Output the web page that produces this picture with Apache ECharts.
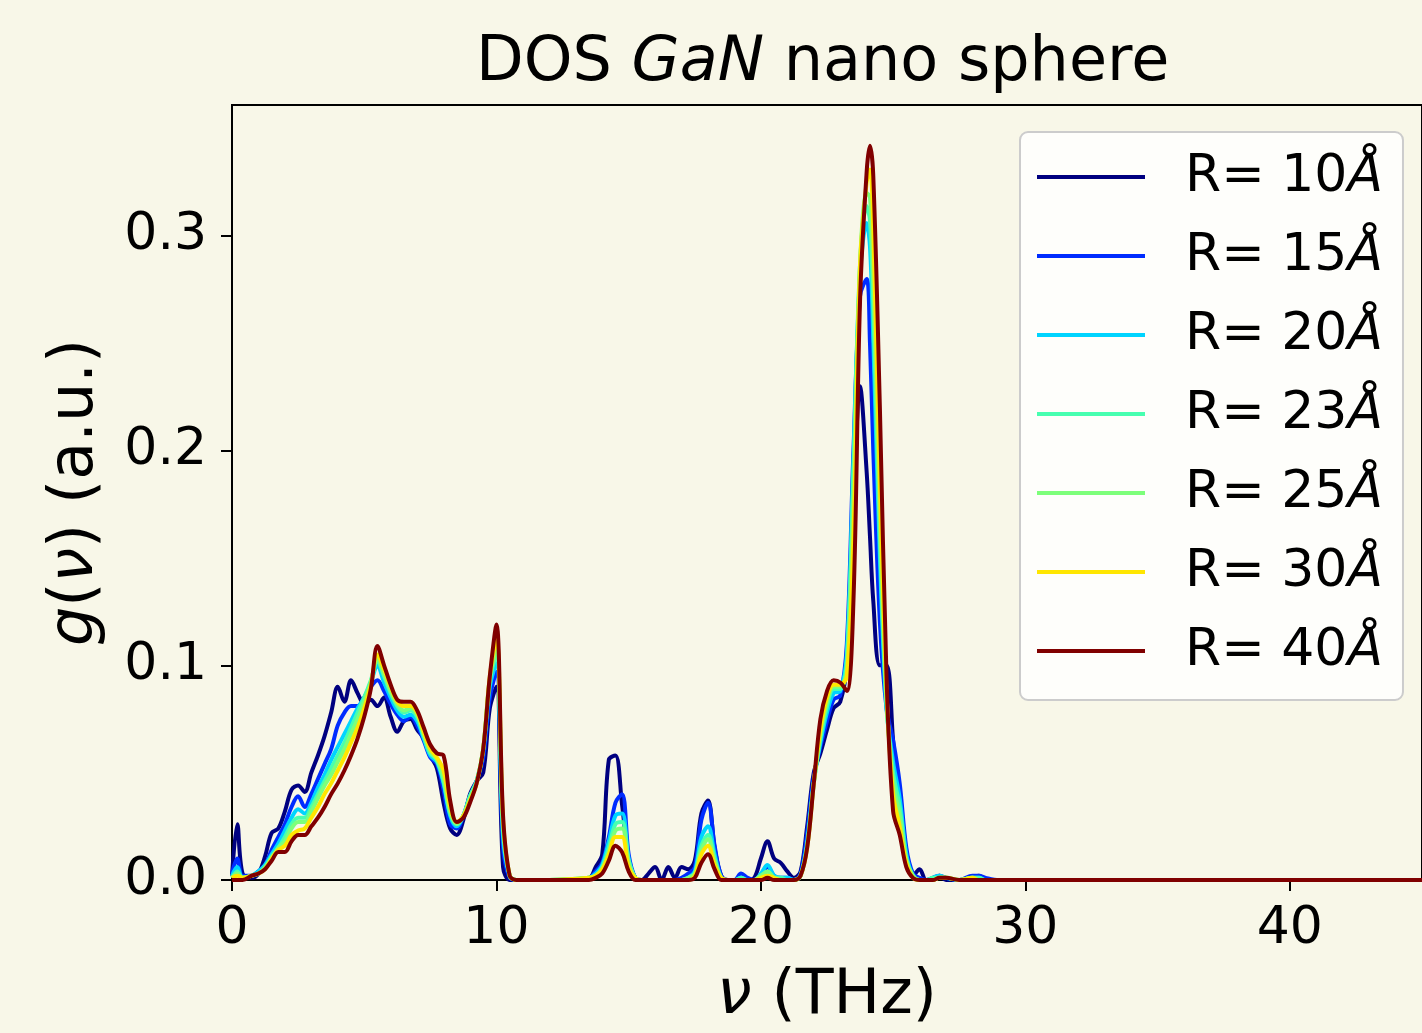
<!DOCTYPE html>
<html>
<head>
<meta charset="utf-8">
<title>DOS GaN nano sphere</title>
<script src="https://cdn.jsdelivr.net/npm/echarts@6/dist/echarts.min.js"></script>
<style>
  html, body { margin: 0; padding: 0; background: #f8f7e8; }
  #chart { width: 1422px; height: 1033px; }
</style>
</head>
<body>
<div id="chart"></div>
<script>
// frequency grid (THz), shared by all curves
const nu = [
  0, 0.2, 0.4, 0.75, 1.0, 1.25, 1.5, 1.75, 2.0, 2.25,
  2.5, 2.75, 3.0, 3.25, 3.5, 3.75, 4.0, 4.25, 4.5, 4.75,
  5.0, 5.25, 5.5, 5.75, 6.0, 6.25, 6.5, 6.75, 7.0, 7.25,
  7.5, 7.75, 8.0, 8.25, 8.5, 8.75, 9.0, 9.25, 9.5, 9.75,
  10.0, 10.25, 10.5, 10.75, 12.0, 13.5, 13.75, 14.0, 14.25, 14.5,
  14.75, 15.0, 15.25, 15.5, 15.75, 16.0, 16.25, 16.5, 16.75, 17.0,
  17.25, 17.5, 17.75, 18.0, 18.25, 18.5, 18.75, 19.0, 19.25, 19.5,
  19.75, 20.0, 20.25, 20.5, 20.75, 21.0, 21.25, 21.5, 21.75, 22.0,
  22.25, 22.5, 22.75, 23.0, 23.25, 23.5, 23.75, 24.0, 24.125, 24.25, 24.5,
  24.75, 25.0, 25.25, 25.5, 25.75, 26.0, 26.25, 26.5, 26.75, 27.0,
  27.5, 28.0, 28.25, 28.5, 29.0, 30.0, 45.0,
];

const g10 = [
  0.002, 0.026, 0.003, 0.001, 0.003, 0.011, 0.022, 0.024, 0.032, 0.042,
  0.044, 0.041, 0.050, 0.058, 0.067, 0.078, 0.090, 0.083, 0.093, 0.087,
  0.082, 0.084, 0.081, 0.085, 0.076, 0.069, 0.074, 0.075, 0.070, 0.066,
  0.058, 0.052, 0.036, 0.024, 0.021, 0.028, 0.040, 0.046, 0.050, 0.080,
  0.090, 0.006, 0.000, 0.000, 0.000, 0.001, 0.006, 0.012, 0.056, 0.058,
  0.035, 0.010, 0.001, 0.000, 0.003, 0.006, 0.000, 0.006, 0.001, 0.006,
  0.005, 0.009, 0.031, 0.037, 0.015, 0.002, 0.000, 0.000, 0.001, 0.000,
  0.001, 0.010, 0.018, 0.010, 0.008, 0.004, 0.001, 0.004, 0.025, 0.050,
  0.059, 0.070, 0.080, 0.083, 0.100, 0.170, 0.230, 0.190, 0.160, 0.130, 0.100,
  0.100, 0.065, 0.030, 0.010, 0.002, 0.005, 0.000, 0.000, 0.002, 0.000,
  0.000, 0.001, 0.002, 0.000, 0.000, 0.000, 0.000,
];

const g15 = [
  0.003, 0.010, 0.002, 0.002, 0.004, 0.007, 0.014, 0.020, 0.026, 0.034,
  0.039, 0.034, 0.040, 0.047, 0.054, 0.061, 0.072, 0.078, 0.081, 0.081,
  0.085, 0.090, 0.093, 0.088, 0.082, 0.077, 0.074, 0.076, 0.072, 0.065,
  0.057, 0.054, 0.042, 0.026, 0.024, 0.030, 0.039, 0.046, 0.057, 0.085,
  0.097, 0.015, 0.001, 0.000, 0.000, 0.001, 0.004, 0.008, 0.020, 0.036,
  0.040, 0.012, 0.001, 0.000, 0.000, 0.000, 0.000, 0.000, 0.000, 0.001,
  0.003, 0.006, 0.028, 0.036, 0.016, 0.002, 0.000, 0.000, 0.003, 0.001,
  0.000, 0.002, 0.006, 0.002, 0.001, 0.001, 0.000, 0.003, 0.022, 0.048,
  0.062, 0.074, 0.084, 0.086, 0.110, 0.200, 0.272, 0.280, 0.250, 0.200, 0.120,
  0.080, 0.065, 0.045, 0.015, 0.003, 0.001, 0.000, 0.001, 0.002, 0.001,
  0.000, 0.002, 0.002, 0.001, 0.000, 0.000, 0.000,
];

const g20 = [
  0.002, 0.006, 0.001, 0.002, 0.004, 0.007, 0.012, 0.017, 0.023, 0.029,
  0.033, 0.031, 0.036, 0.043, 0.049, 0.056, 0.062, 0.068, 0.074, 0.080,
  0.085, 0.092, 0.100, 0.092, 0.085, 0.079, 0.076, 0.077, 0.074, 0.066,
  0.058, 0.055, 0.045, 0.030, 0.025, 0.030, 0.039, 0.046, 0.060, 0.090,
  0.101, 0.020, 0.002, 0.000, 0.000, 0.001, 0.003, 0.007, 0.018, 0.030,
  0.031, 0.010, 0.001, 0.000, 0.000, 0.000, 0.000, 0.000, 0.000, 0.000,
  0.001, 0.004, 0.020, 0.025, 0.012, 0.001, 0.000, 0.000, 0.001, 0.000,
  0.000, 0.003, 0.007, 0.002, 0.001, 0.001, 0.000, 0.002, 0.018, 0.046,
  0.064, 0.078, 0.087, 0.088, 0.105, 0.195, 0.282, 0.306, 0.295, 0.252, 0.150,
  0.080, 0.055, 0.038, 0.012, 0.002, 0.000, 0.000, 0.001, 0.002, 0.001,
  0.000, 0.001, 0.001, 0.000, 0.000, 0.000, 0.000,
];

const g23 = [
  0.001, 0.004, 0.001, 0.002, 0.003, 0.006, 0.011, 0.015, 0.020, 0.026,
  0.029, 0.029, 0.034, 0.040, 0.046, 0.052, 0.058, 0.064, 0.071, 0.078,
  0.085, 0.093, 0.102, 0.095, 0.087, 0.081, 0.078, 0.079, 0.076, 0.067,
  0.059, 0.056, 0.046, 0.031, 0.026, 0.030, 0.039, 0.046, 0.061, 0.093,
  0.105, 0.024, 0.002, 0.000, 0.000, 0.001, 0.002, 0.006, 0.015, 0.026,
  0.027, 0.009, 0.001, 0.000, 0.000, 0.000, 0.000, 0.000, 0.000, 0.000,
  0.001, 0.003, 0.016, 0.021, 0.010, 0.001, 0.000, 0.000, 0.001, 0.000,
  0.000, 0.002, 0.004, 0.001, 0.001, 0.000, 0.000, 0.002, 0.016, 0.045,
  0.066, 0.081, 0.089, 0.089, 0.102, 0.190, 0.287, 0.314, 0.307, 0.268, 0.160,
  0.082, 0.050, 0.034, 0.010, 0.002, 0.000, 0.000, 0.001, 0.001, 0.001,
  0.000, 0.001, 0.001, 0.000, 0.000, 0.000, 0.000,
];

const g25 = [
  0.001, 0.003, 0.001, 0.002, 0.003, 0.006, 0.010, 0.015, 0.018, 0.024,
  0.027, 0.027, 0.032, 0.038, 0.044, 0.049, 0.055, 0.061, 0.068, 0.075,
  0.083, 0.092, 0.103, 0.096, 0.088, 0.082, 0.079, 0.080, 0.077, 0.068,
  0.060, 0.056, 0.048, 0.032, 0.026, 0.030, 0.038, 0.045, 0.061, 0.094,
  0.108, 0.026, 0.002, 0.000, 0.000, 0.001, 0.002, 0.005, 0.013, 0.023,
  0.024, 0.008, 0.001, 0.000, 0.000, 0.000, 0.000, 0.000, 0.000, 0.000,
  0.001, 0.003, 0.014, 0.019, 0.009, 0.001, 0.000, 0.000, 0.000, 0.000,
  0.000, 0.002, 0.004, 0.001, 0.000, 0.000, 0.000, 0.002, 0.016, 0.045,
  0.068, 0.083, 0.090, 0.090, 0.098, 0.175, 0.287, 0.320, 0.318, 0.283, 0.170,
  0.085, 0.045, 0.030, 0.009, 0.002, 0.000, 0.000, 0.000, 0.001, 0.001,
  0.000, 0.001, 0.000, 0.000, 0.000, 0.000, 0.000,
];

const g30 = [
  0.001, 0.002, 0.001, 0.002, 0.003, 0.005, 0.010, 0.014, 0.016, 0.021,
  0.023, 0.024, 0.029, 0.034, 0.040, 0.045, 0.051, 0.057, 0.064, 0.071,
  0.080, 0.091, 0.105, 0.098, 0.090, 0.083, 0.081, 0.081, 0.078, 0.069,
  0.061, 0.057, 0.051, 0.034, 0.027, 0.030, 0.037, 0.045, 0.061, 0.095,
  0.112, 0.028, 0.002, 0.000, 0.000, 0.001, 0.002, 0.005, 0.012, 0.020,
  0.020, 0.006, 0.001, 0.000, 0.000, 0.000, 0.000, 0.000, 0.000, 0.000,
  0.000, 0.002, 0.012, 0.016, 0.007, 0.001, 0.000, 0.000, 0.000, 0.000,
  0.000, 0.001, 0.002, 0.001, 0.000, 0.000, 0.000, 0.002, 0.015, 0.045,
  0.070, 0.085, 0.091, 0.091, 0.095, 0.160, 0.287, 0.325, 0.331, 0.303, 0.185,
  0.088, 0.040, 0.025, 0.008, 0.001, 0.000, 0.000, 0.000, 0.001, 0.001,
  0.000, 0.001, 0.000, 0.000, 0.000, 0.000, 0.000,
];

const g40 = [
  0.000, 0.000, 0.000, 0.002, 0.003, 0.005, 0.009, 0.013, 0.013, 0.018,
  0.021, 0.021, 0.025, 0.029, 0.034, 0.040, 0.045, 0.051, 0.058, 0.066,
  0.076, 0.089, 0.109, 0.100, 0.091, 0.084, 0.083, 0.083, 0.079, 0.071,
  0.063, 0.059, 0.058, 0.037, 0.027, 0.029, 0.036, 0.045, 0.061, 0.095,
  0.119, 0.030, 0.002, 0.000, 0.000, 0.000, 0.001, 0.003, 0.009, 0.016,
  0.013, 0.004, 0.000, 0.000, 0.000, 0.000, 0.000, 0.000, 0.000, 0.000,
  0.000, 0.001, 0.008, 0.012, 0.005, 0.000, 0.000, 0.000, 0.000, 0.000,
  0.000, 0.000, 0.001, 0.000, 0.000, 0.000, 0.000, 0.002, 0.015, 0.045,
  0.075, 0.088, 0.093, 0.092, 0.088, 0.130, 0.270, 0.330, 0.342, 0.328, 0.220,
  0.095, 0.032, 0.021, 0.006, 0.001, 0.000, 0.000, 0.000, 0.001, 0.001,
  0.000, 0.000, 0.000, 0.000, 0.000, 0.000, 0.000,
];

const names = ['R= 10Å', 'R= 15Å', 'R= 20Å', 'R= 23Å', 'R= 25Å', 'R= 30Å', 'R= 40Å'];
const curves = [g10, g15, g20, g23, g25, g30, g40];
const colors = ['#000080', '#002cff', '#00d4ff', '#47ffb0', '#7dff7a', '#ffe600', '#800000'];
const xTicks = [0, 10, 20, 30, 40];
const yTicks = [0, 0.1, 0.2, 0.3];

const font = 'DejaVu Sans';
const chart = echarts.init(document.getElementById('chart'));

const option = {
  backgroundColor: '#f8f7e8',
  animation: false,
  textStyle: { fontFamily: font, color: '#000' },
  title: {
    text: 'DOS {i|GaN} nano sphere',
    left: 471,
    top: 28,
    textStyle: {
      fontFamily: font,
      fontSize: 62,
      fontWeight: 'normal',
      color: '#000',
      rich: { i: { fontFamily: font, fontSize: 62, fontStyle: 'italic', color: '#000' } },
    },
  },
  grid: {
    left: 232,
    top: 105,
    width: 1192,
    height: 776,
    show: true,
    borderColor: '#000',
    borderWidth: 2,
    backgroundColor: 'transparent',
  },
  legend: {
    orient: 'vertical',
    left: 1020,
    top: 132,
    data: names,
    selectedMode: false,
    icon: 'rect',
    itemWidth: 108,
    itemHeight: 4,
    itemGap: 27,
    padding: [19, 20, 23, 17],
    backgroundColor: 'rgba(255,255,255,0.8)',
    borderColor: '#cccccc',
    borderWidth: 2,
    borderRadius: 8,
    formatter: (name) => name.replace('Å', '{i|Å}'),
    textStyle: {
      fontFamily: font,
      fontSize: 52,
      lineHeight: 52,
      color: '#000',
      padding: [0, 0, 0, 35],
      rich: { i: { fontFamily: font, fontSize: 52, lineHeight: 52, fontStyle: 'italic', color: '#000' } },
    },
  },
  xAxis: {
    type: 'value',
    min: 0,
    max: 45,
    interval: 10,
    name: '{i|ν} (THz)',
    nameLocation: 'middle',
    nameGap: 86,
    nameTextStyle: {
      fontFamily: font,
      fontSize: 62,
      color: '#000',
      rich: { i: { fontFamily: font, fontSize: 62, fontStyle: 'italic', color: '#000' } },
    },
    axisLine: { lineStyle: { color: '#000', width: 2 } },
    axisTick: { show: true, inside: false, length: 11, lineStyle: { color: '#000', width: 2 }, customValues: xTicks },
    axisLabel: { fontFamily: font, fontSize: 52, color: '#000', margin: 23, customValues: xTicks },
    splitLine: { show: false },
  },
  yAxis: {
    type: 'value',
    min: 0,
    max: 0.361,
    interval: 0.1,
    name: '{i|g}({i|ν}) (a.u.)',
    nameLocation: 'middle',
    nameGap: 125,
    nameTextStyle: {
      fontFamily: font,
      fontSize: 62,
      color: '#000',
      rich: { i: { fontFamily: font, fontSize: 62, fontStyle: 'italic', color: '#000' } },
    },
    axisLine: { show: true, lineStyle: { color: '#000', width: 2 } },
    axisTick: { show: true, inside: false, length: 11, lineStyle: { color: '#000', width: 2 }, customValues: yTicks },
    axisLabel: {
      fontFamily: font,
      fontSize: 52,
      color: '#000',
      margin: 25,
      customValues: yTicks,
      formatter: (v) => v.toFixed(1),
    },
    splitLine: { show: false },
  },
  series: curves.map((vals, k) => ({
    name: names[k],
    type: 'line',
    data: vals.map((v, i) => [nu[i], v]),
    showSymbol: false,
    smooth: 0.35,
    clip: true,
    lineStyle: { color: colors[k], width: 4 },
    itemStyle: { color: colors[k] },
  })),
};

chart.setOption(option);
</script>
</body>
</html>
